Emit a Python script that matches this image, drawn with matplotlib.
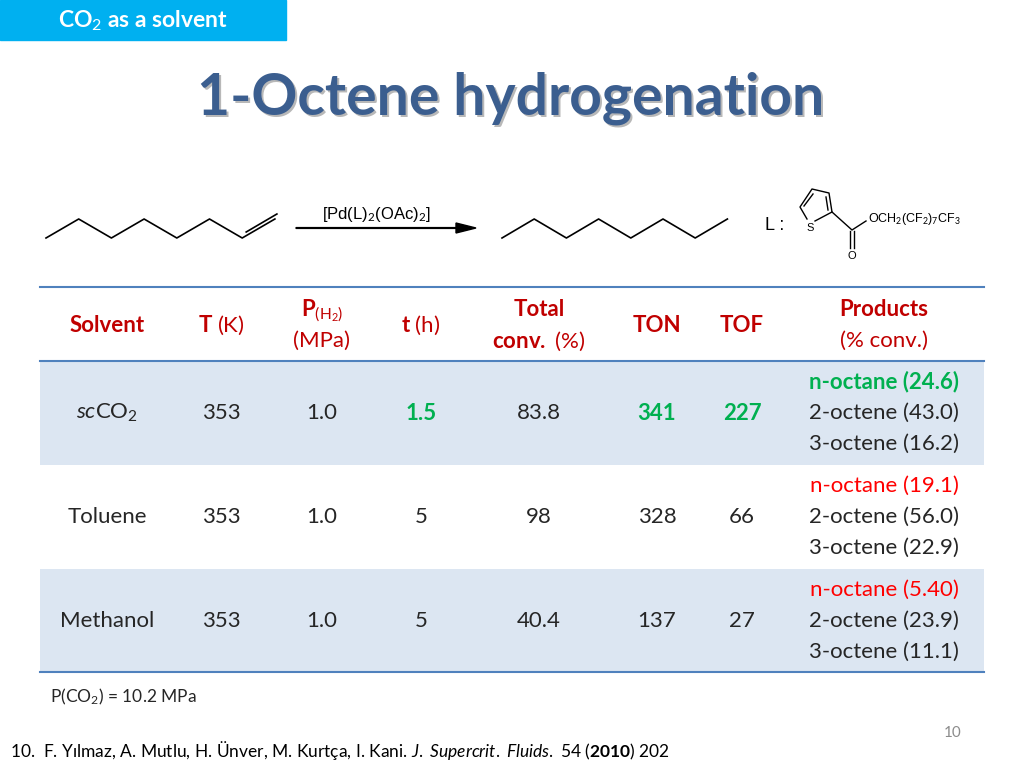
import matplotlib
matplotlib.use("Agg")
import matplotlib.pyplot as plt
from matplotlib.patches import Rectangle, FancyArrow

plt.rcParams['font.family'] = 'Lato'
plt.rcParams['mathtext.fontset'] = 'custom'
plt.rcParams['mathtext.rm'] = 'Lato'
plt.rcParams['mathtext.it'] = 'Lato:italic'
plt.rcParams['mathtext.bf'] = 'Lato:bold'

solvents = [r'$\mathit{sc}$CO$_2$', 'Toluene', 'Methanol']
temps = ['353', '353', '353']
pressures = ['1.0', '1.0', '1.0']
times = ['1.5', '5', '5']
conversions = ['83.8', '98', '40.4']
tons = ['341', '328', '137']
tofs = ['227', '66', '27']
products = [['n-octane (24.6)', '2-octene (43.0)', '3-octene (16.2)'],
            ['n-octane (19.1)', '2-octene (56.0)', '3-octene (22.9)'],
            ['n-octane (5.40)', '2-octene (23.9)', '3-octene (11.1)']]
highlight_green = [True, False, False]

GREEN = '#00B050'; RED = '#FF0000'; HDR = '#C00000'; TXT = '#262626'
BLUE_LINE = '#4F81BD'; SHADE = '#DCE6F2'

fig = plt.figure(figsize=(10.24, 7.68), dpi=100)
ax = fig.add_axes([0, 0, 1, 1])
ax.set_xlim(0, 1024); ax.set_ylim(768, 0); ax.axis('off')

# header band
ax.add_patch(Rectangle((0, 0), 286, 40, color='#00B0F0'))
ax.text(143, 21, r'CO$_2$ as a solvent', color='white', fontsize=16.5, fontweight='bold', ha='center', va='center')

# title with shadow
ax.text(513, 100, '1-Octene hydrogenation', color='#B8B8B8', fontsize=41, fontweight='bold', ha='center', va='center')
ax.text(511, 98, '1-Octene hydrogenation', color='#3B5E8F', fontsize=41, fontweight='bold', ha='center', va='center')

# chemistry
def zig(x0, n, step, ylo=238, yhi=219):
    xs = [x0 + i*step for i in range(n+1)]
    ys = [ylo if i % 2 == 0 else yhi for i in range(n+1)]
    return xs, ys
xs, ys = zig(46, 7, 32.7)
ax.plot(xs, ys, color='k', lw=1.2)
ax.plot([xs[6]+4, xs[7]+2], [ys[6]-6, ys[7]-5], color='k', lw=1.2)
xs, ys = zig(502, 7, 32.2)
ax.plot(xs, ys, color='k', lw=1.2)
ax.add_patch(FancyArrow(296, 228, 160, 0, width=0.8, head_width=10, head_length=20, color='k', length_includes_head=False))
ax.text(376, 214, r'[Pd(L)$_2$(OAc)$_2$]', fontfamily='Liberation Sans', fontsize=12, ha='center', va='center')
ax.text(775, 226, 'L :', fontfamily='Liberation Sans', fontsize=13, ha='center', va='center')
# thiophene
S = (810, 224); C5 = (800, 207); C4 = (812, 189); C3 = (829, 193); C2 = (832, 212)
ax.plot([S[0]-3, C5[0], C4[0], C3[0], C2[0], S[0]+5], [S[1]-5, C5[1], C4[1], C3[1], C2[1], S[1]-3], color='k', lw=1)
ax.plot([804, 813], [206, 194], color='k', lw=1)
ax.plot([826, 828], [197, 210], color='k', lw=1)
ax.text(810, 228, 'S', fontfamily='Liberation Sans', fontsize=8, ha='center', va='center')
ax.plot([832, 852, 866], [212, 230, 221], color='k', lw=1)
ax.plot([850, 850], [231, 248], color='k', lw=1)
ax.plot([854, 854], [231, 248], color='k', lw=1)
ax.text(852, 256, 'O', fontfamily='Liberation Sans', fontsize=8, ha='center', va='center')
ax.text(868, 219, r'OCH$_2$(CF$_2$)$_7$CF$_3$', fontfamily='Liberation Sans', fontsize=9, ha='left', va='center')

# table
cols = [107, 221, 322, 421, 539, 657, 742, 884]
rows_top = [361, 465, 569]
rh = 104
for i, top in enumerate(rows_top):
    if i != 1:
        ax.add_patch(Rectangle((40, top), 944, rh, color=SHADE, lw=0))
for y in (287, 361, 672):
    ax.plot([40, 984], [y, y], color=BLUE_LINE, lw=1.5)

fs = 16
ax.text(cols[0], 325, 'Solvent', color=HDR, fontsize=fs, fontweight='bold', ha='center', va='center')
ax.text(cols[1], 325, r'$\mathbf{T}$ (K)', color=HDR, fontsize=fs, ha='center', va='center')
ax.text(cols[2], 311, r'$\mathbf{P}$$_{\rm (H_2)}$', color=HDR, fontsize=fs, ha='center', va='center')
ax.text(cols[2], 341, '(MPa)', color=HDR, fontsize=fs, ha='center', va='center')
ax.text(cols[3], 325, r'$\mathbf{t}$ (h)', color=HDR, fontsize=fs, ha='center', va='center')
ax.text(cols[4], 310, 'Total', color=HDR, fontsize=fs, fontweight='bold', ha='center', va='center')
ax.text(cols[4], 341, r'$\mathbf{conv.}$ (%)', color=HDR, fontsize=fs, ha='center', va='center')
ax.text(cols[5], 325, 'TON', color=HDR, fontsize=fs, fontweight='bold', ha='center', va='center')
ax.text(cols[6], 325, 'TOF', color=HDR, fontsize=fs, fontweight='bold', ha='center', va='center')
ax.text(cols[7], 310, 'Products', color=HDR, fontsize=fs, fontweight='bold', ha='center', va='center')
ax.text(cols[7], 341, '(% conv.)', color=HDR, fontsize=fs, ha='center', va='center')

for i, top in enumerate(rows_top):
    yc = top + rh/2
    g = highlight_green[i]
    ax.text(cols[0], yc, solvents[i], color=TXT, fontsize=fs, ha='center', va='center')
    ax.text(cols[1], yc, temps[i], color=TXT, fontsize=fs, ha='center', va='center')
    ax.text(cols[2], yc, pressures[i], color=TXT, fontsize=fs, ha='center', va='center')
    for c, v in ((3, times[i]), (5, tons[i]), (6, tofs[i])):
        ax.text(cols[c], yc, v, color=GREEN if g else TXT, fontsize=fs,
                fontweight='bold' if g else 'normal', ha='center', va='center')
    ax.text(cols[4], yc, conversions[i], color=TXT, fontsize=fs, ha='center', va='center')
    for j, p in enumerate(products[i]):
        if j == 0:
            col = GREEN if g else RED
            wt = 'bold' if g else 'normal'
        else:
            col = TXT; wt = 'normal'
        ax.text(cols[7], yc + (j-1)*31, p, color=col, fontsize=fs, fontweight=wt, ha='center', va='center')

ax.text(50, 697, r'P(CO$_2$) = 10.2 MPa', color=TXT, fontsize=12.5, ha='left', va='center')
ax.text(953, 733, '10', color='#8C8C8C', fontsize=11, ha='center', va='center')
ax.text(10, 750, r'10.  F. Yılmaz, A. Mutlu, H. Ünver, M. Kurtça, I. Kani. $\mathit{J.\ Supercrit.\ Fluids.}$ 54 ($\mathbf{2010}$) 202',
        color='k', fontsize=12.5, ha='left', va='center')

fig.savefig('out.png', dpi=100)
